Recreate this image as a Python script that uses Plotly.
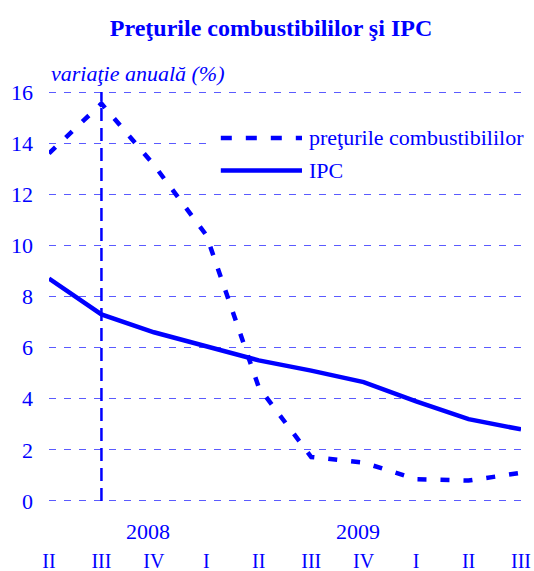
import plotly.graph_objects as go

# Quarterly annual growth rates (%)
quarters = ["II", "III", "IV", "I", "II", "III", "IV", "I", "II", "III"]
years = ["2008", "2009"]
year_pos = [2, 6]
fuel_prices = [13.6, 15.55, 13.15, 10.4, 4.45, 1.72, 1.5, 0.85, 0.8, 1.1]
cpi = [8.7, 7.3, 6.6, 6.05, 5.5, 5.1, 4.65, 3.9, 3.2, 2.8]
marker_quarter = 1  # vertical reference line position

BLUE = "#0000ff"
GRID = "#5a5aff"
FONT = "Liberation Serif"
xs = list(range(len(quarters)))

fig = go.Figure()
fig.add_trace(go.Scatter(
    x=xs, y=fuel_prices, mode="lines", name="preţurile combustibililor",
    line=dict(color=BLUE, width=4.5, dash="9px,14px"), showlegend=False,
))
fig.add_trace(go.Scatter(
    x=xs, y=cpi, mode="lines", name="IPC",
    line=dict(color=BLUE, width=4.5), showlegend=False,
))

# vertical dashed marker
fig.add_shape(type="line", xref="x", yref="y", x0=marker_quarter, x1=marker_quarter,
              y0=0, y1=16, line=dict(color=BLUE, width=2.5, dash="13px,7px"))

# legend box drawn by hand (wider line samples)
fig.add_shape(type="rect", xref="paper", yref="paper", x0=0.337, x1=1.03, y0=0.77, y1=0.92,
              fillcolor="white", line=dict(width=0))
fig.add_shape(type="line", xref="paper", yref="paper", x0=0.364, x1=0.536, y0=0.884, y1=0.884,
              line=dict(color=BLUE, width=4.5, dash="11px,14px"))
fig.add_shape(type="line", xref="paper", yref="paper", x0=0.364, x1=0.536, y0=0.805, y1=0.805,
              line=dict(color=BLUE, width=4.5))
fig.add_annotation(xref="paper", yref="paper", x=0.546, y=0.884, xanchor="left", yanchor="middle",
                   text="preţurile combustibililor", showarrow=False,
                   font=dict(family=FONT, size=22, color=BLUE))
fig.add_annotation(xref="paper", yref="paper", x=0.546, y=0.805, xanchor="left", yanchor="middle",
                   text="IPC", showarrow=False, font=dict(family=FONT, size=22, color=BLUE))

# unit note
fig.add_annotation(xref="paper", yref="paper", x=0.0, y=1.0, xanchor="left", yanchor="middle",
                   yshift=17, text="<i>variaţie anuală (%)</i>", showarrow=False,
                   font=dict(family=FONT, size=22, color=BLUE))

# year labels above the quarter ticks
for yr, pos in zip(years, year_pos):
    fig.add_annotation(xref="x", yref="paper", x=pos, y=0, xanchor="center", yanchor="middle",
                       xshift=-6, yshift=-28, text=yr, showarrow=False,
                       font=dict(family=FONT, size=22, color=BLUE))

fig.update_layout(
    width=534, height=571,
    margin=dict(l=49, r=13, t=90, b=68),
    paper_bgcolor="white", plot_bgcolor="white",
    title=dict(text="<b>Preţurile combustibililor şi IPC</b>", x=271 / 534, xanchor="center",
               y=1 - 28 / 571, yanchor="middle", font=dict(family=FONT, size=24, color=BLUE)),
    xaxis=dict(range=[0, 9], tickvals=xs, ticktext=quarters, showgrid=False, zeroline=False,
               showline=False, ticks="", ticklabelstandoff=44, automargin=False,
               tickfont=dict(family=FONT, size=20, color=BLUE)),
    yaxis=dict(range=[-0.08, 16.08], dtick=2, tick0=0, showgrid=True, gridcolor=GRID, gridwidth=1,
               griddash="7px,8px", zeroline=False, showline=False, ticks="", automargin=False,
               ticklabelstandoff=15, tickfont=dict(family=FONT, size=22, color=BLUE)),
)

fig.write_html("out.html")
